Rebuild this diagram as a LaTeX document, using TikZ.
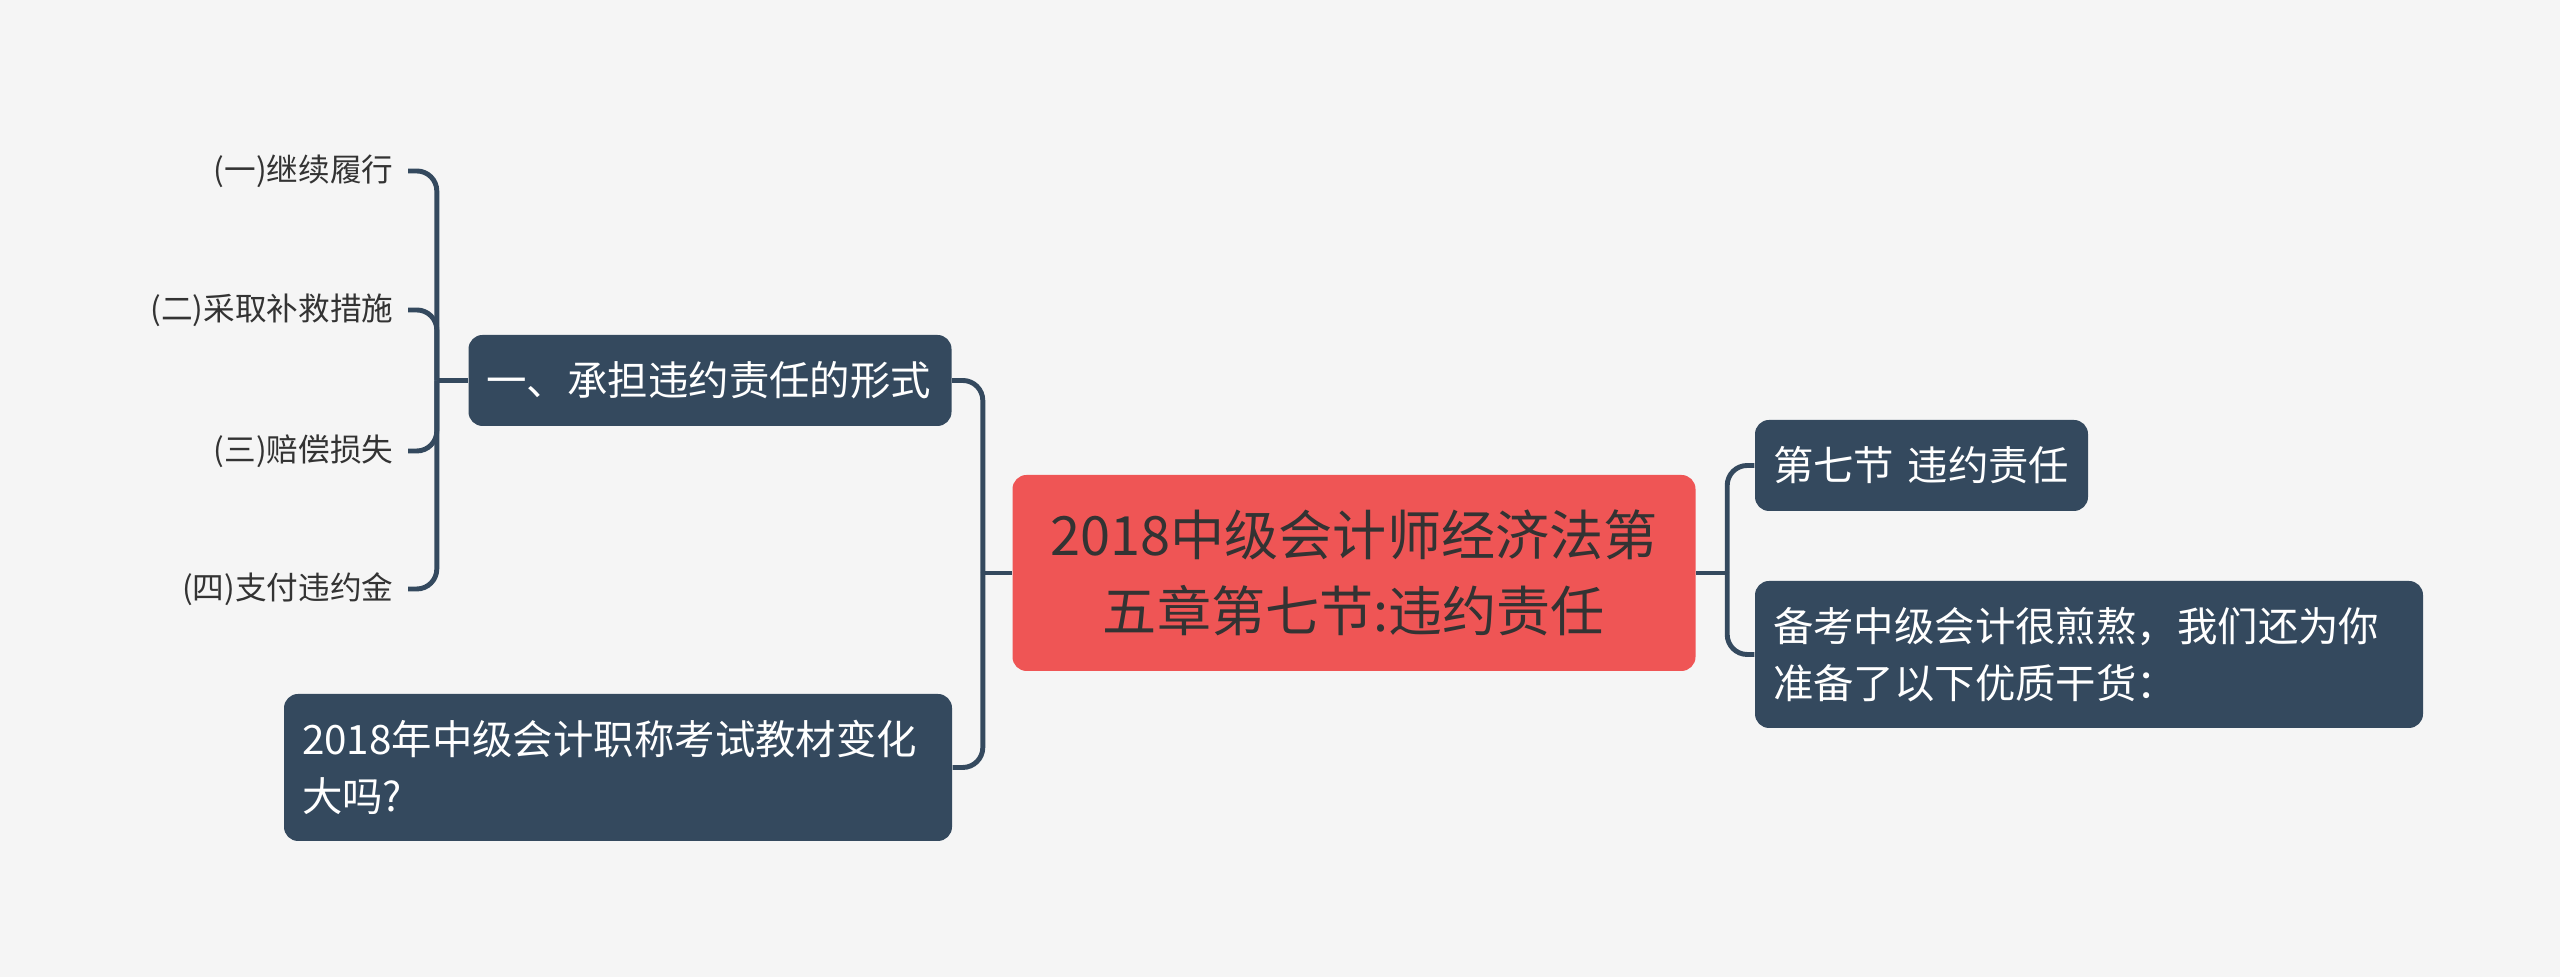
\documentclass[tikz,border=0pt]{standalone}
\usepackage{fontspec}
\setmainfont{Noto Sans CJK SC}
\usetikzlibrary{positioning,calc}
\definecolor{mapbg}{HTML}{F5F5F5}
\definecolor{topicblue}{HTML}{34495E}
\definecolor{rootred}{HTML}{EF5555}
\definecolor{leafgray}{HTML}{333333}
\tikzset{
  root/.style={fill=rootred,rounded corners=4pt,align=center,minimum width=6.83cm,minimum height=1.96cm,text=leafgray,font=\fontsize{15.4}{21.8}\selectfont},
  topic/.style={fill=topicblue,rounded corners=4pt,align=left,inner xsep=0.18cm,inner ysep=0pt,text=white,font=\fontsize{11.5}{16.2}\selectfont},
  leaf/.style={inner xsep=0.14cm,inner ysep=2pt,text=leafgray,font=\fontsize{9}{11}\selectfont},
  link/.style={draw=topicblue,line width=1.4pt,rounded corners=0.2cm},
}

\begin{document}
\begin{tikzpicture}
    \fill[mapbg] (0,0) rectangle (25.6,9.77);
    \useasboundingbox (0,0) rectangle (25.6,9.77);
    \node[root] (root) at (13.54,4.04) {2018中级会计师经济法第\\五章第七节:违约责任};
    \node[topic,text width=4.47cm,minimum height=0.91cm] (form) at (7.10,5.965) {一、承担违约责任的形式};
    \node[topic,text width=6.32cm,minimum height=1.47cm] (change) at (6.18,2.095) {2018年中级会计职称考试教材变化\\大吗?};
    \node[topic,text width=2.97cm,minimum height=0.91cm] (sec7) at (19.215,5.115) {第七节 违约责任};
    \node[topic,text width=6.32cm,minimum height=1.47cm] (prep) at (20.89,3.225) {备考中级会计很煎熬，我们还为你\\准备了以下优质干货：};
    % left side
    \coordinate (lj) at ($(root.west)+(-0.29,0)$);
    \draw[link] (root.west)--(lj);
    \draw[link] (lj) |- (form.east); \draw[link] (lj) |- (change.east);
    % right side
    \coordinate (rj) at ($(root.east)+(0.31,0)$);
    \draw[link] (root.east)--(rj);
    \draw[link] (rj) |- (sec7.west); \draw[link] (rj) |- (prep.west);
    % leaves
    \coordinate (fj) at ($(form.west)+(-0.31,0)$);
    \draw[link] (form.west)--(fj);
    \foreach \k/\yy/\txt in {1/8.06/{(一)继续履行},2/6.67/{(二)采取补救措施},3/5.26/{(三)赔偿损失},4/3.88/{(四)支付违约金}}{
      \node[leaf,anchor=east] (w\k) at (4.08,\yy) {\txt};
      \draw[link] (fj) |- (w\k.east);
    }
\end{tikzpicture}
\end{document}
